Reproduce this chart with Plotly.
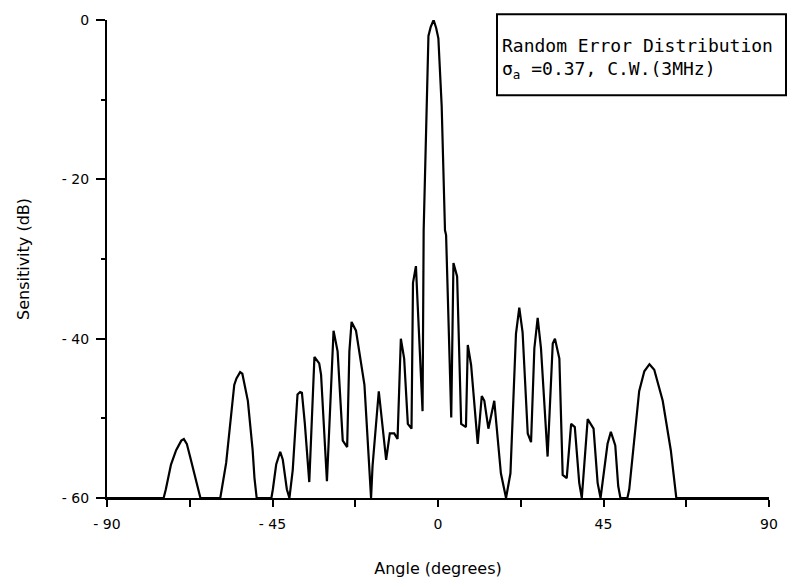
import plotly.graph_objects as go

# Beam pattern: angle (degrees) vs. sensitivity (dB), floor clipped at -60 dB
angle_deg = [
    -90.0, -74.6, -74.0, -72.6, -71.2, -69.8, -69.1, -68.3, -67.3, -65.3, -64.6,
    -59.2, -58.8, -57.6, -55.4, -54.8, -53.8, -53.2, -51.7, -50.4, -49.9, -49.3,
    -45.3, -44.9, -44.0, -42.9, -42.2, -41.1, -40.4,
    -39.5, -38.2, -37.5, -37.0, -36.2, -35.0,
    -33.6, -32.3, -31.8, -30.2,
    -28.4, -27.3, -25.9, -24.7,
    -24.1, -23.5, -22.3, -20.0, -18.6, -18.2,
    -17.8, -16.1, -14.1, -13.1, -11.9, -11.0,
    -10.1, -9.2, -8.2, -7.2,
    -6.8, -6.0, -5.5, -4.2,
    -3.9, -3.3, -2.6, -2.0, -1.2, -0.5, 0.1, 1.0, 1.9, 2.2, 3.6,
    4.2, 5.2, 6.3, 7.6,
    8.1, 9.0, 10.8, 11.9, 12.6, 13.7, 15.3, 17.1, 18.5,
    19.7, 21.2, 22.1, 23.0, 24.4, 25.3,
    26.2, 27.1, 28.0, 29.8,
    31.2, 31.8, 33.0, 33.9, 35.0,
    36.2, 37.2, 38.4, 39.1,
    40.7, 42.3, 43.4, 44.2,
    46.1, 47.0, 48.2, 49.0, 49.6,
    51.5, 52.0, 54.7, 56.1, 57.5, 58.8, 61.1, 63.3, 64.3, 64.8, 90.0,
]
sensitivity_db = [
    -60.0, -60.0, -58.9, -55.8, -54.0, -52.8, -52.6, -53.2, -55.0, -58.9, -60.0,
    -60.0, -58.9, -55.6, -45.8, -45.0, -44.2, -44.4, -47.8, -54.0, -57.5, -60.0,
    -60.0, -58.9, -55.8, -54.2, -55.2, -58.9, -60.0,
    -56.5, -47.0, -46.7, -46.8, -50.7, -58.0,
    -42.3, -43.1, -44.5, -57.9,
    -39.0, -41.6, -52.8, -53.6,
    -41.6, -37.9, -39.0, -45.8, -58.0, -60.0,
    -56.0, -46.6, -55.2, -51.9, -51.9, -52.6,
    -40.0, -42.5, -50.7, -51.3,
    -33.0, -30.9, -36.0, -49.1,
    -26.4, -14.9, -2.0, -0.9, 0.0, -1.0, -2.3, -10.8, -26.4, -27.0, -49.9,
    -30.5, -32.2, -50.7, -51.1,
    -40.8, -43.3, -53.2, -47.2, -47.8, -51.3, -47.8, -56.9, -60.0,
    -56.9, -39.4, -36.1, -39.2, -51.9, -53.0,
    -41.2, -37.4, -41.2, -54.8,
    -40.6, -40.0, -42.5, -57.1, -57.5,
    -50.7, -51.1, -58.1, -60.0,
    -50.1, -51.3, -58.1, -60.0,
    -53.2, -51.7, -53.4, -58.5, -60.0,
    -60.0, -58.9, -46.6, -44.1, -43.2, -43.9, -47.8, -54.0, -58.5, -60.0, -60.0,
]

x_tick_vals = [-90, -45, 0, 45, 90]
x_tick_text = ["- 90", "- 45", "0", "45", "90"]
x_minor_vals = [-67.5, -22.5, 22.5, 67.5]
y_tick_vals = [0, -20, -40, -60]
y_tick_text = ["0", "- 20", "- 40", "- 60"]
y_minor_vals = [-10, -30, -50]

LEFT, RIGHT, TOP, BOTTOM = 107, 28, 20, 78
W, H = 797, 587
PW, PH = W - LEFT - RIGHT, H - TOP - BOTTOM


def px_x(p):
    return (p - LEFT) / PW


def px_y(p):
    return (H - BOTTOM - p) / PH


fig = go.Figure()
fig.add_trace(go.Scatter(
    x=angle_deg, y=sensitivity_db, mode="lines",
    line=dict(color="black", width=2.2), showlegend=False, hoverinfo="skip",
    cliponaxis=False,
))

tick_font = dict(family="DejaVu Sans, sans-serif", size=14, color="black")
title_font = dict(family="DejaVu Sans, sans-serif", size=16, color="black")

fig.update_xaxes(
    range=[-90, 90], tickvals=x_tick_vals, ticktext=x_tick_text,
    ticks="outside", ticklen=7, tickwidth=2, tickcolor="black",
    ticklabelstandoff=5,
    minor=dict(tickvals=x_minor_vals, ticks="outside", ticklen=7,
               tickwidth=2, tickcolor="black"),
    showline=True, linecolor="black", linewidth=2, showgrid=False, zeroline=False,
    tickfont=tick_font,
    title=dict(text="Angle (degrees)", font=title_font, standoff=32),
)
fig.update_yaxes(
    range=[-60, 0], tickvals=y_tick_vals, ticktext=y_tick_text,
    ticks="outside", ticklen=9, tickwidth=2, tickcolor="black",
    ticklabelstandoff=4,
    minor=dict(tickvals=y_minor_vals, ticks="outside", ticklen=4,
               tickwidth=2, tickcolor="black"),
    showline=True, linecolor="black", linewidth=2, showgrid=False, zeroline=False,
    tickfont=tick_font,
    title=dict(text="Sensitivity (dB)", font=title_font, standoff=28),
)

# Caption box in the upper right
fig.add_shape(
    type="rect", xref="paper", yref="paper",
    x0=px_x(497), x1=px_x(786), y0=px_y(97), y1=px_y(14),
    line=dict(color="black", width=2), fillcolor="white",
)
cap_font = dict(family="DejaVu Sans Mono, monospace", size=18, color="black")
fig.add_annotation(
    xref="paper", yref="paper", x=px_x(500), y=px_y(46),
    xanchor="left", yanchor="middle", showarrow=False,
    text="Random Error Distribution", font=cap_font,
)
fig.add_annotation(
    xref="paper", yref="paper", x=px_x(500), y=px_y(71),
    xanchor="left", yanchor="middle", showarrow=False,
    text="σ<sub>a</sub> =0.37, C.W.(3MHz)", font=cap_font,
)

fig.update_layout(
    width=W, height=H,
    margin=dict(l=LEFT, r=RIGHT, t=TOP, b=BOTTOM),
    paper_bgcolor="white", plot_bgcolor="white",
)

fig.write_html("out.html")
